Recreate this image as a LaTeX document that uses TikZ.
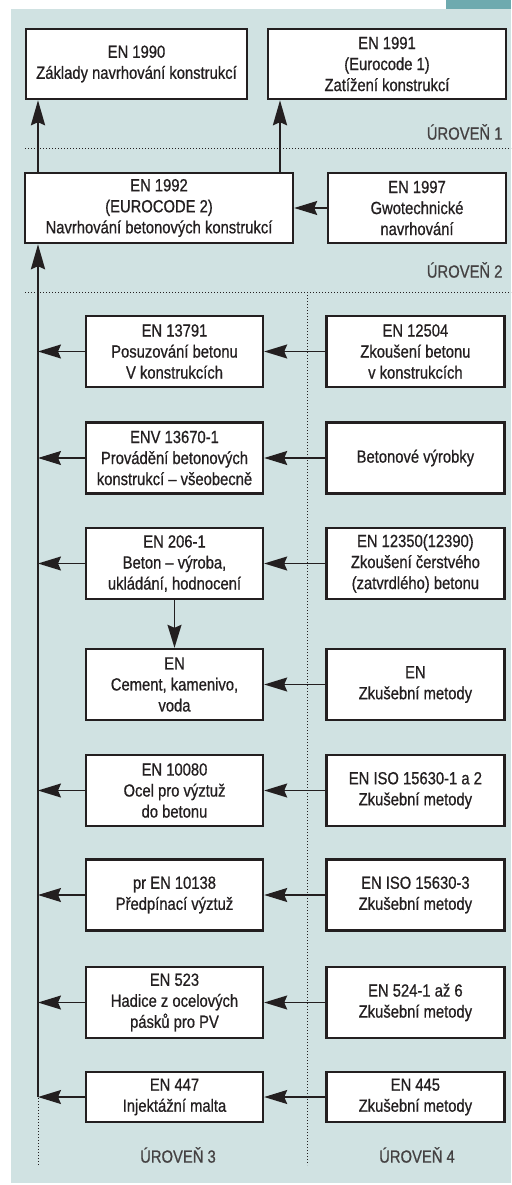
\documentclass[tikz,border=0pt]{standalone}
\usepackage{fontspec}
\setmainfont{Liberation Sans}[FakeStretch=0.84, FakeBold=0.7]
\usetikzlibrary{positioning,arrows.meta}
\definecolor{panelfill}{HTML}{D0E2E2}
\definecolor{tabfill}{HTML}{6EAAAF}
\definecolor{inkclr}{HTML}{231F20}
\newcommand{\boxfont}{\fontsize{17.6}{21}\selectfont}
\tikzset{
  box/.style      = {draw=inkclr, fill=white, line width=2.4pt, inner sep=2pt,
                     align=center, text=inkclr, font=\boxfont},
  leftbox/.style  = {box, minimum width=177pt, minimum height=71pt},
  rightbox/.style = {box, minimum width=178pt, minimum height=71pt},
  lvl/.style      = {text=inkclr!85, font=\boxfont},
  flow/.style     = {-{Stealth[length=23pt, width=14pt, inset=3pt]},
                     line width=1.3pt, draw=inkclr},
  spine/.style    = {-{Stealth[length=25pt, width=14pt, inset=3pt]},
                     line width=2.6pt, draw=inkclr},
  sep/.style      = {draw=inkclr, line width=0.8pt, dash pattern=on 0.8pt off 2.2pt},
}

\begin{document}
\begin{tikzpicture}[x=1pt, y=-1pt]

%% --- frame ---------------------------------------------------------------
\useasboundingbox (0,0) rectangle (511,1185);
\fill[panelfill] (11,9.5) rectangle (511,1183);
\fill[tabfill] (446,0) rectangle (511,9.5);

%% --- level separators --------------------------------------------------
\draw[sep] (25,148) -- (511,148);
\draw[sep] (25,292) -- (511,292);
\draw[sep] (307,292) -- (307,1165);
\draw[sep] (38,1098) -- (38,1165);

\node[lvl, anchor=east] (lvl1) at (506,132) {ÚROVEŇ 1};
\node[lvl, anchor=east] (lvl2) at (506,270) {ÚROVEŇ 2};
\node[lvl] (lvl3) at (178,1155) {ÚROVEŇ 3};
\node[lvl] (lvl4) at (417,1155) {ÚROVEŇ 4};

%% =====================================================================
%% Levels 1 and 2
%% =====================================================================
\node[box, minimum width=221pt, minimum height=70pt] (n1990) at (136.5,64)
  {EN 1990\\Základy navrhování konstrukcí};
\node[box, minimum width=238pt, minimum height=70pt] (n1991) at (387,64)
  {EN 1991\\(Eurocode 1)\\Zatížení konstrukcí};
\node[box, minimum width=268pt, minimum height=70pt] (n1992) at (159,208)
  {EN 1992\\(EUROCODE 2)\\Navrhování betonových konstrukcí};
\node[box, minimum width=178pt, minimum height=70pt] (n1997) at (417,208)
  {EN 1997\\Gwotechnické\\navrhování};

\coordinate (spine) at (38,1097);
\coordinate (up2)   at (280,0);

\draw[spine] (n1992.north -| spine) -- (n1990.south -| spine);
\draw[spine] (n1992.north -| up2)   -- (n1991.south -| up2);
\draw[flow]  (n1997) -- (n1992);

%% =====================================================================
%% Level 3 (left) and level 4 (right)
%% =====================================================================
\node[leftbox] (n13791) at (174.5,351.5)
  {EN 13791\\Posuzování betonu\\V konstrukcích};
\node[rightbox, right=61pt of n13791] (n12504)
  {EN 12504\\Zkoušení betonu\\v konstrukcích};

\node[leftbox] (n13670) at (174.5,458)
  {ENV 13670-1\\Provádění betonových\\konstrukcí – všeobecně};
\node[rightbox, right=61pt of n13670] (nvyrob)
  {Betonové výrobky};

\node[leftbox] (n206) at (174.5,563.5)
  {EN 206-1\\Beton – výroba,\\ukládání, hodnocení};
\node[rightbox, right=61pt of n206] (n12350)
  {EN 12350(12390)\\Zkoušení čerstvého\\(zatvrdlého) betonu};

\node[leftbox] (ncem) at (174.5,684.5)
  {EN\\Cement, kamenivo,\\voda};
\node[rightbox, right=61pt of ncem] (nzkcem)
  {EN\\Zkušební metody};

\node[leftbox] (n10080) at (174.5,790.5)
  {EN 10080\\Ocel pro výztuž\\do betonu};
\node[rightbox, right=61pt of n10080] (n15630a)
  {EN ISO 15630-1 a 2\\Zkušební metody};

\node[leftbox] (n10138) at (174.5,895)
  {pr EN 10138\\Předpínací výztuž};
\node[rightbox, right=61pt of n10138] (n15630b)
  {EN ISO 15630-3\\Zkušební metody};

\node[leftbox] (n523) at (174.5,1002.5)
  {EN 523\\Hadice z ocelových\\pásků pro PV};
\node[rightbox, right=61pt of n523] (n524)
  {EN 524-1 až 6\\Zkušební metody};

\node[leftbox, minimum height=50pt] (n447) at (174.5,1097)
  {EN 447\\Injektážní malta};
\node[rightbox, minimum height=50pt, right=61pt of n447] (n445)
  {EN 445\\Zkušební metody};

%% --- connectors ----------------------------------------------------------
\draw[spine] (spine) -- (n1992.south -| spine);

\foreach \lft/\rgt in {n13791/n12504, n13670/nvyrob, n206/n12350, ncem/nzkcem,
                       n10080/n15630a, n10138/n15630b, n523/n524, n447/n445}
  \draw[flow] (\rgt) -- (\lft);

\foreach \lft in {n13791, n13670, n206, n10080, n10138, n523, n447}
  \draw[flow] (\lft.west) -- (\lft.west -| spine);

\draw[flow] (n206) -- (ncem);

\end{tikzpicture}
\end{document}
